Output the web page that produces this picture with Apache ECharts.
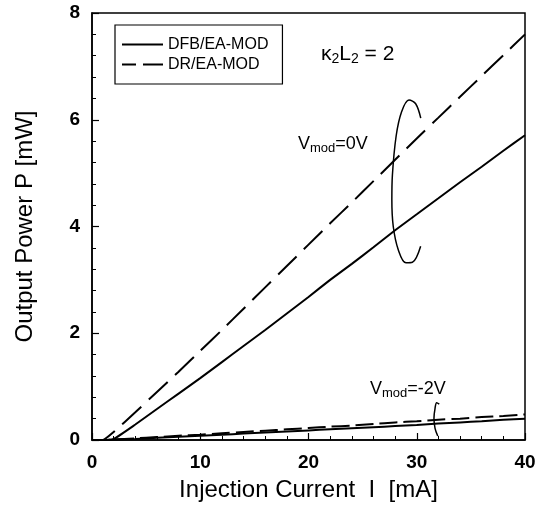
<!DOCTYPE html>
<html>
<head>
<meta charset="utf-8">
<script src="https://cdn.jsdelivr.net/npm/echarts@6/dist/echarts.min.js"></script>
<style>
  html, body { margin: 0; padding: 0; background: #fff; }
  #chart { width: 549px; height: 515px; }
</style>
</head>
<body>
<div id="chart"></div>
<script>
// Injection current sample points [mA]
const current = [0, 1, 2, 4, 6, 8, 10, 12, 14, 16, 18, 20, 22, 24, 26, 28, 30, 32, 34, 36, 38, 40];

// Output power [mW] at Vmod = 0 V
const dfb0V = [0, 0, 0.02, 0.29, 0.58, 0.87, 1.16, 1.46, 1.76, 2.06, 2.37, 2.68, 3.0, 3.3, 3.61, 3.93, 4.23, 4.53, 4.83, 5.12, 5.42, 5.71];
const dr0V  = [0, 0, 0.15, 0.52, 0.9, 1.28, 1.67, 2.06, 2.46, 2.86, 3.26, 3.66, 4.06, 4.45, 4.85, 5.25, 5.65, 6.04, 6.43, 6.82, 7.21, 7.6];

// Output power [mW] at Vmod = -2 V
const dfbm2V = [0, 0, 0.005, 0.02, 0.04, 0.06, 0.08, 0.1, 0.12, 0.14, 0.16, 0.18, 0.2, 0.22, 0.24, 0.26, 0.28, 0.31, 0.33, 0.35, 0.38, 0.4];
const drm2V  = [0, 0, 0.01, 0.03, 0.055, 0.08, 0.1, 0.125, 0.15, 0.175, 0.2, 0.225, 0.25, 0.27, 0.3, 0.33, 0.35, 0.38, 0.4, 0.43, 0.45, 0.48];

// Grouping brackets drawn around each pair of curves (data units)
const bracket0V = [[30.37, 6.03], [29.9, 6.3], [29.28, 6.37], [28.6, 6.15], [28.1, 5.7], [27.75, 4.96], [27.7, 4.5], [27.83, 4.0], [28.3, 3.56], [29.0, 3.32], [29.6, 3.33], [30.36, 3.63]];
const bracketM2V = [[32.08, 0.674], [31.84, 0.70], [31.69, 0.594], [31.59, 0.407], [31.69, 0.219], [31.94, 0.075]];

const xTicks = { min: 0, max: 40, interval: 10 };
const yTicks = { min: 0, max: 8, interval: 2 };

const zip = (xs, ys) => xs.map((x, i) => [x, ys[i]]);

const FONT = 'Liberation Sans, Arial, sans-serif';

// Legend glyphs: a plain stroke and a broken stroke
const ICON_SOLID = 'path://M0,0h41v2h-41z';
const ICON_DASHED = 'path://M0,0h14v2h-14z M21,0h20v2h-20z';

const chart = echarts.init(document.getElementById('chart'), null, { renderer: 'canvas' });

const curve = (name, data, dash) => ({
  name: name,
  type: 'line',
  data: data,
  showSymbol: false,
  symbol: 'none',
  smooth: 0.15,
  silent: true,
  lineStyle: { color: '#000', width: 2, type: dash || 'solid' },
  itemStyle: { color: '#000' }
});

const bracket = (data) => ({
  type: 'line',
  data: data,
  showSymbol: false,
  symbol: 'none',
  smooth: 0.35,
  silent: true,
  lineStyle: { color: '#000', width: 1.5 }
});

chart.setOption({
  animation: false,
  backgroundColor: '#fff',
  grid: {
    left: 92, right: 24, top: 13, bottom: 75,
    show: true, borderColor: '#000', borderWidth: 1.5
  },
  legend: {
    data: [
      { name: 'DFB/EA-MOD', icon: ICON_SOLID },
      { name: 'DR/EA-MOD', icon: ICON_DASHED }
    ],
    orient: 'vertical',
    left: 115, top: 25,
    padding: [11, 14, 11, 7],
    itemWidth: 41, itemHeight: 2, itemGap: 3,
    borderColor: '#000', borderWidth: 1.2,
    backgroundColor: '#fff',
    selectedMode: false,
    textStyle: { fontFamily: FONT, fontSize: 16, color: '#000', lineHeight: 17 }
  },
  xAxis: {
    type: 'value',
    min: xTicks.min, max: xTicks.max, interval: xTicks.interval,
    name: 'Injection Current  I  [mA]',
    nameLocation: 'middle',
    nameGap: 38,
    nameTextStyle: { fontFamily: FONT, fontSize: 24, color: '#000' },
    axisLine: { lineStyle: { color: '#000', width: 1.5 } },
    axisTick: { inside: true, length: 7, lineStyle: { color: '#000', width: 1.2 } },
    minorTick: { show: true, splitNumber: 5, length: 4, lineStyle: { color: '#000', width: 1 } },
    splitLine: { show: false },
    axisLabel: { fontFamily: FONT, fontSize: 19, fontWeight: 'bold', color: '#000', margin: 13 }
  },
  yAxis: {
    type: 'value',
    min: yTicks.min, max: yTicks.max, interval: yTicks.interval,
    name: 'Output Power P [mW]',
    nameLocation: 'middle',
    nameGap: 55,
    nameTextStyle: { fontFamily: FONT, fontSize: 24, color: '#000' },
    axisLine: { lineStyle: { color: '#000', width: 1.5 } },
    axisTick: { inside: true, length: 7, lineStyle: { color: '#000', width: 1.2 } },
    minorTick: { show: true, splitNumber: 5, length: 4, lineStyle: { color: '#000', width: 1 } },
    splitLine: { show: false },
    axisLabel: { fontFamily: FONT, fontSize: 19, fontWeight: 'bold', color: '#000', margin: 12 }
  },
  series: [
    curve('DFB/EA-MOD', zip(current, dfb0V)),
    curve('DR/EA-MOD', zip(current, dr0V), [26, 10]),
    curve('DFB/EA-MOD', zip(current, dfbm2V)),
    curve('DR/EA-MOD', zip(current, drm2V), [18, 6]),
    bracket(bracket0V),
    bracket(bracketM2V)
  ],
  graphic: [
    {
      type: 'text', left: 321, top: 42,
      style: {
        text: '{m|κ}{s|2}{m|L}{s|2}{m| = 2}',
        rich: {
          m: { fontFamily: FONT, fontSize: 21, fill: '#000', lineHeight: 24 },
          s: { fontFamily: FONT, fontSize: 14, fill: '#000', padding: [10, 0, 0, 0], lineHeight: 24 }
        }
      }
    },
    {
      type: 'text', left: 298, top: 134,
      style: {
        text: '{m|V}{s|mod}{m|=0V}',
        rich: {
          m: { fontFamily: FONT, fontSize: 18, fill: '#000', lineHeight: 22 },
          s: { fontFamily: FONT, fontSize: 13, fill: '#000', padding: [8, 0, 0, 0], lineHeight: 22 }
        }
      }
    },
    {
      type: 'text', left: 370, top: 379,
      style: {
        text: '{m|V}{s|mod}{m|=-2V}',
        rich: {
          m: { fontFamily: FONT, fontSize: 18, fill: '#000', lineHeight: 22 },
          s: { fontFamily: FONT, fontSize: 13, fill: '#000', padding: [8, 0, 0, 0], lineHeight: 22 }
        }
      }
    }
  ]
});
</script>
</body>
</html>
